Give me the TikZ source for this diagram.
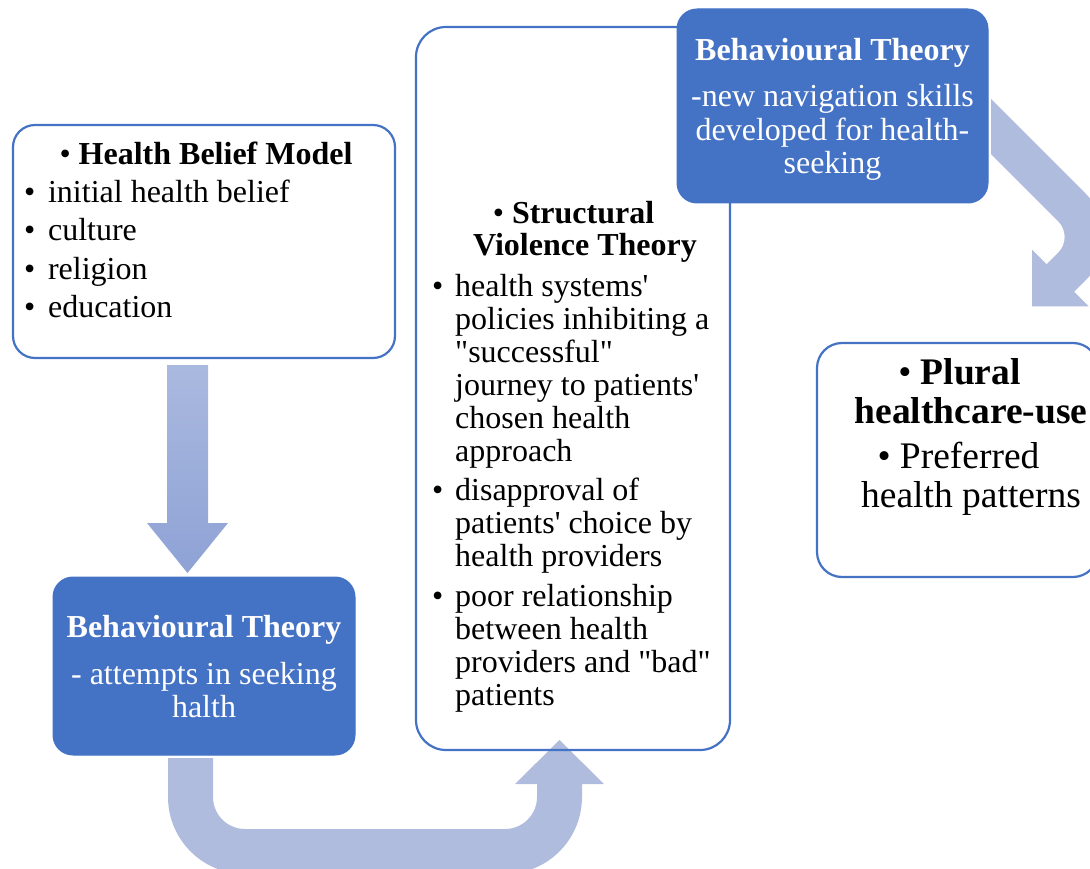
\documentclass[tikz,border=0pt]{standalone}
\usepackage{fontspec}
\setmainfont{Liberation Serif}[Ligatures=TeXOff]
\usetikzlibrary{calc, backgrounds}

\definecolor{boxblue}{HTML}{4472C4}
\definecolor{arrowblue}{HTML}{AFBCDE}
\definecolor{arrowtop}{HTML}{AAB9DF}
\definecolor{arrowbot}{HTML}{8EA2D5}

\newcommand{\setfs}[2]{\fontsize{#1}{#2}\selectfont}

\begin{document}
\begin{tikzpicture}[
    x=1pt, y=-1pt,
    whitebox/.style={draw=boxblue, line width=2.2pt, rounded corners=22pt, inner sep=0pt, outer sep=0pt},
    bluebox/.style={fill=boxblue, draw=boxblue, line width=1pt, rounded corners=20pt, inner sep=0pt, outer sep=0pt},
    txt/.style={inner sep=0pt, anchor=north},
    bigarrow/.style={fill=arrowblue}
]
\useasboundingbox (0,0) rectangle (1090,869);
\clip (0,0) rectangle (1090,869);

% boxes
\node[whitebox, minimum width=382pt, minimum height=233pt] (hbm) at (204,241.5) {};
\node[bluebox, minimum width=302pt, minimum height=178pt] (beh1) at (204,666) {};
\node[whitebox, minimum width=314pt, minimum height=723pt, rounded corners=30pt] (svt) at (573,388.5) {};
\node[bluebox, minimum width=311pt, minimum height=194pt] (beh2) at (832.5,106) {};
\node[whitebox, minimum width=281pt, minimum height=234pt, rounded corners=25pt] (plural) at (957.5,460) {};

% texts
\node[txt, font=\setfs{32}{38.5}] (hbmhead) at (206,137.5) {\begin{tabular}{@{}c@{}}
\textbullet~\textbf{Health Belief Model}
\end{tabular}};
\node[txt, anchor=north west, font=\setfs{32}{38.5}] (hbmlist) at (24,175) {\begin{tabular}{@{}l@{\hspace{12.7pt}}l@{}}
\textbullet & initial health belief\\
\textbullet & culture\\
\textbullet & religion\\
\textbullet & education
\end{tabular}};

\node[txt, text=white, font=\setfs{32}{33}] (beh1txt) at (204,614.5) {\begin{tabular}{@{}c@{}}
\textbf{Behavioural Theory}\\[14pt]
- attempts in seeking\\
halth
\end{tabular}};

\node[txt, font=\setfs{32}{32}] (svthead) at (585,200.6) {\begin{tabular}{@{}c@{}}
\textbullet~\textbf{Structural}\hspace*{23pt}\\
\textbf{Violence Theory}
\end{tabular}};
\node[txt, anchor=north west, font=\setfs{32}{33}] (svtlist) at (432,273) {\begin{tabular}{@{}l@{\hspace{11.8pt}}l@{}}
\textbullet & health systems'\\
 & policies inhibiting a\\
 & "successful"\\
 & journey to patients'\\
 & chosen health\\
 & approach\\[6.5pt]
\textbullet & disapproval of\\
 & patients' choice by\\
 & health providers\\[6.5pt]
\textbullet & poor relationship\\
 & between health\\
 & providers and "bad"\\
 & patients
\end{tabular}};

\node[txt, text=white, font=\setfs{32}{33.5}] (beh2txt) at (832.5,36.5) {\begin{tabular}{@{}c@{}}
\textbf{Behavioural Theory}\\[13pt]
-new navigation skills\\
developed for health-\\
seeking
\end{tabular}};

\node[txt, font=\setfs{37.5}{39}] (pluraltxt) at (971,357) {\begin{tabular}{@{}c@{}}
\textbullet~\textbf{Plural}\hspace*{23pt}\\
\textbf{healthcare-use}\\[6pt]
\textbullet~Preferred\hspace*{25pt}\\
health patterns
\end{tabular}};

% block arrows
\coordinate (d1) at ($(hbm.south)+(-16.5,7)$);
\coordinate (d2) at ($(beh1.north)+(-16.5,-4)$);
\coordinate (ustart) at ($(beh1.south)+(-13.5,3)$);
\coordinate (uend) at ($(svt.south)+(-13.5,-10)$);
\coordinate (c1) at ($(beh2.east)+(3,-7)$);

\begin{scope}[on background layer]
% hbm -> beh1
\shade[top color=arrowtop, bottom color=arrowbot]
    ($(d1)+(-20.5,0)$) -- ++(41,0) -- ($(d2)+(20.5,-50)$) -- ++(20,0)
    -- (d2) -- ++(-40.5,-50) -- ++(20,0) -- cycle;
% beh1 -> svt
\fill[bigarrow] ($(ustart)+(-22.5,0)$) -- ++(45,0) -- ++(0,39)
    arc[start angle=180, end angle=90, radius=32] -- ($(uend)+(-54.5,89)$)
    arc[start angle=90, end angle=0, radius=32] -- ++(0,-13) -- ++(-22,0)
    -- (uend) -- ++(44.5,44) -- ++(-22,0) -- ++(0,13)
    arc[start angle=0, end angle=90, radius=77] -- ($(ustart)+(54.5,116)$)
    arc[start angle=90, end angle=180, radius=77] -- cycle;
% beh2 -> plural
\fill[bigarrow] (c1) -- ++(94.5,94.5)
    arc[start angle=-45, end angle=45, radius=61.5] -- ++(-11.3,11.3)
    -- ++(14.5,14.5) -- ++(-56.5,0) -- ++(0,-56.5) -- ++(14.5,14.5)
    -- ++(11.3,-11.3) arc[start angle=45, end angle=-45, radius=22.6]
    -- ++(-67,-67) -- cycle;
\end{scope}

\end{tikzpicture}
\end{document}
